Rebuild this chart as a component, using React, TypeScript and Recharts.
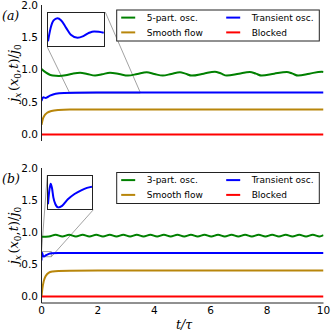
import React from "react";
import { LineChart, Line, XAxis, YAxis, ReferenceLine, ReferenceArea } from "recharts";

// ---- data ----
const xTicks = [0, 2, 4, 6, 8, 10];
const yTicks = [0, 0.5, 1, 1.5, 2];

// panel (a)
const tGreenA = [0, 0.15, 0.4, 0.62, 0.85, 1.1, 1.37, 1.62, 1.9, 2.15, 2.43, 2.75, 3.07, 3.4, 3.73, 4.0, 4.3, 4.6, 4.91, 5.1, 5.33, 5.75, 6.15, 6.35, 6.57, 7.0, 7.39, 7.6, 7.81, 8.25, 8.7, 8.9, 9.1, 9.5, 9.94, 10];
const vGreenA = [1.01, 0.96, 0.91, 0.905, 0.915, 0.94, 0.955, 0.935, 0.91, 0.93, 0.955, 0.935, 0.91, 0.935, 0.96, 0.935, 0.91, 0.935, 0.96, 0.94, 0.91, 0.94, 0.97, 0.945, 0.91, 0.94, 0.965, 0.94, 0.91, 0.94, 0.965, 0.94, 0.91, 0.94, 0.97, 0.965];
const tBlueA = [0, 0.06, 0.15, 0.3, 0.5, 0.8, 1.2, 2, 10];
const vBlueA = [0.52, 0.575, 0.565, 0.6, 0.63, 0.642, 0.646, 0.647, 0.647];
const tGoldA = [0, 0.04, 0.1, 0.2, 0.35, 0.6, 1, 2, 10];
const vGoldA = [0.15, 0.23, 0.29, 0.335, 0.362, 0.378, 0.385, 0.388, 0.388];
const tRed = [0, 10];
const vRed = [0, 0];

// inset (a): zoom on the transient current
const tInsetA = [1.0, 1.12, 1.25, 1.42, 1.59, 1.81, 2.02, 2.32, 2.58, 2.84, 3.06, 3.27, 3.49];
const vInsetA = [0.6417, 0.6466, 0.6493, 0.6501, 0.6493, 0.6466, 0.6441, 0.643, 0.6436, 0.6448, 0.6453, 0.6452, 0.6448];

// panel (b)
const tGreenB = [0, 0.26, 0.5, 0.74, 0.98, 1.22, 1.46, 1.7, 1.94, 2.18, 2.42, 2.66, 2.9, 3.14, 3.38, 3.62, 3.86, 4.1, 4.34, 4.58, 4.82, 5.06, 5.3, 5.54, 5.78, 6.02, 6.26, 6.5, 6.74, 6.98, 7.22, 7.46, 7.7, 7.94, 8.18, 8.42, 8.66, 8.9, 9.14, 9.38, 9.62, 9.86, 10];
const vGreenB = [0.93, 0.934, 0.962, 0.935, 0.961, 0.934, 0.962, 0.935, 0.961, 0.934, 0.962, 0.935, 0.961, 0.934, 0.962, 0.935, 0.961, 0.934, 0.962, 0.935, 0.961, 0.934, 0.962, 0.935, 0.961, 0.934, 0.962, 0.935, 0.961, 0.934, 0.962, 0.935, 0.961, 0.934, 0.962, 0.935, 0.961, 0.934, 0.962, 0.935, 0.961, 0.934, 0.955];
const tBlueB = [0, 0.01, 0.021, 0.04, 0.06, 0.084, 0.16, 0.26, 0.35, 0.6, 1, 2, 10];
const vBlueB = [0.56, 0.66, 0.681, 0.655, 0.631, 0.623, 0.643, 0.665, 0.674, 0.677, 0.678, 0.678, 0.678];
const tGoldB = [0, 0.03, 0.08, 0.15, 0.25, 0.4, 0.6, 1, 2, 10];
const vGoldB = [0, 0.12, 0.24, 0.32, 0.37, 0.39, 0.398, 0.402, 0.404, 0.404];

// inset (b)
const tInsetB = [0, 0.009, 0.021, 0.032, 0.043, 0.059, 0.084, 0.112, 0.158, 0.211, 0.264, 0.31, 0.35];
const vInsetB = [0.631, 0.661, 0.681, 0.67, 0.647, 0.631, 0.623, 0.627, 0.643, 0.656, 0.665, 0.671, 0.674];

const GREEN = "#008000";
const GOLD = "#b8860b";
const BLUE = "#0000ff";
const RED = "#ff0000";
const FRAME = "#222";
const GRAY = "#8a8a8a";
const FONT = "DejaVu Sans";

const W = 332;
const PLOT_L = 41.5;
const PLOT_R = 323.5;

const zip = (ts: number[], vs: number[]) => ts.map((t, i) => ({ t, v: vs[i] }));

type Pt = { t: number; v: number };
type Series = { name: string; color: string; data: Pt[] };
type Inset = {
  box: { t0: number; t1: number; v0: number; v1: number };
  zoom: { t0: number; t1: number; v0: number; v1: number };
  xt: number[];
  yt: number[];
  data: Pt[];
  links: [[number, number], [number, number]][];
};

const panelA: Series[] = [
  { name: "5-part. osc.", color: GREEN, data: zip(tGreenA, vGreenA) },
  { name: "Smooth flow", color: GOLD, data: zip(tGoldA, vGoldA) },
  { name: "Transient osc.", color: BLUE, data: zip(tBlueA, vBlueA) },
  { name: "Blocked", color: RED, data: zip(tRed, vRed) },
];
const panelB: Series[] = [
  { name: "3-part. osc.", color: GREEN, data: zip(tGreenB, vGreenB) },
  { name: "Smooth flow", color: GOLD, data: zip(tGoldB, vGoldB) },
  { name: "Transient osc.", color: BLUE, data: zip(tBlueB, vBlueB) },
  { name: "Blocked", color: RED, data: zip(tRed, vRed) },
];

const insetA: Inset = {
  box: { t0: 0.206, t1: 2.262, v0: 1.35, v1: 1.89 },
  zoom: { t0: 1, t1: 3.5, v0: 0.64, v1: 0.652 },
  xt: [1.5, 2, 2.5, 3],
  yt: [0.6432, 0.6476],
  data: zip(tInsetA, vInsetA),
  links: [
    [[0.206, 1.35], [1, 0.64]],
    [[2.262, 1.89], [3.5, 0.652]],
  ],
};
const insetB: Inset = {
  box: { t0: 0.206, t1: 1.837, v0: 1.35, v1: 1.89 },
  zoom: { t0: 0, t1: 0.35, v0: 0.62, v1: 0.7 },
  xt: [0.05, 0.1, 0.15, 0.2, 0.25, 0.3],
  yt: [0.64, 0.66, 0.68],
  data: zip(tInsetB, vInsetB),
  links: [
    [[0.206, 1.89], [0, 0.7]],
    [[1.837, 1.35], [0.35, 0.62]],
  ],
};

function InsetChart({ cfg, plotTop, plotH }: { cfg: Inset; plotTop: number; plotH: number }) {
  const sx = (t: number) => PLOT_L + (t / 10) * (PLOT_R - PLOT_L);
  const sy = (v: number) => plotTop + ((2 - v) / 2.1) * plotH;
  const left = sx(cfg.box.t0);
  const top = sy(cfg.box.v1);
  const w = sx(cfg.box.t1) - left;
  const h = sy(cfg.box.v0) - top;
  const xd = [cfg.zoom.t0, cfg.zoom.t1];
  const yd = [cfg.zoom.v0, cfg.zoom.v1];
  return (
    <div style={{ position: "absolute", left, top, width: w, height: h, background: "#fff", border: `1px solid ${FRAME}`, boxSizing: "border-box" }}>
      <LineChart width={w - 2} height={h - 2} margin={{ top: 0, right: 0, bottom: 0, left: 0 }}>
        <XAxis xAxisId="b" dataKey="t" type="number" domain={xd} ticks={cfg.xt} allowDataOverflow mirror height={0} tick={false} tickSize={3} axisLine={false} tickLine={{ stroke: FRAME }} />
        <XAxis xAxisId="tp" orientation="top" type="number" domain={xd} ticks={cfg.xt} allowDataOverflow mirror height={0} tick={false} tickSize={3} axisLine={false} tickLine={{ stroke: FRAME }} />
        <YAxis yAxisId="l" type="number" domain={yd} ticks={cfg.yt} allowDataOverflow mirror width={0} tick={false} tickSize={3} axisLine={false} tickLine={{ stroke: FRAME }} />
        <YAxis yAxisId="r" orientation="right" type="number" domain={yd} ticks={cfg.yt} allowDataOverflow mirror width={0} tick={false} tickSize={3} axisLine={false} tickLine={{ stroke: FRAME }} />
        <Line xAxisId="b" yAxisId="l" data={cfg.data} dataKey="v" type="monotone" stroke={BLUE} strokeWidth={2} dot={false} isAnimationActive={false} />
      </LineChart>
    </div>
  );
}

function LegendBox({ items, y }: { items: Series[]; y: number }) {
  const x = 116.7;
  const cols = [x + 4.5, x + 109.5];
  const rows = [y + 7.6, y + 22.4];
  return (
    <g>
      <rect x={x} y={y} width={202.6} height={31} fill="#fff" stroke={FRAME} strokeWidth={1} />
      {items.map((s, i) => {
        const cx = cols[Math.floor(i / 2)];
        const cy = rows[i % 2];
        return (
          <g key={s.name}>
            <line x1={cx} x2={cx + 14} y1={cy} y2={cy} stroke={s.color} strokeWidth={2} />
            <text x={cx + 25.5} y={cy} dy="0.35em" fontFamily={FONT} fontSize={9} fill="#000">
              {s.name}
            </text>
          </g>
        );
      })}
    </g>
  );
}

function YLabel({ x, y }: { x: number; y: number }) {
  return (
    <text transform={`translate(${x},${y}) rotate(-90)`} textAnchor="middle" fontFamily="DejaVu Serif" fontSize={13} fill="#000">
      <tspan fontStyle="italic">j</tspan>
      <tspan fontStyle="italic" fontSize={9} dy={2.5}>x</tspan>
      <tspan dy={-2.5} dx={1.5}>(</tspan>
      <tspan fontStyle="italic">x</tspan>
      <tspan fontSize={9} dy={2.5}>0</tspan>
      <tspan dy={-2.5}>,</tspan>
      <tspan fontStyle="italic">t</tspan>
      <tspan>)/</tspan>
      <tspan fontStyle="italic">j</tspan>
      <tspan fontSize={9} dy={2.5}>0</tspan>
    </text>
  );
}

function Panel({ top, height, axisH, series, inset }: { top: number; height: number; axisH: number; series: Series[]; inset: Inset }) {
  const showX = axisH > 0;
  const yd = [-0.1, 2];
  const tickStyle = { fontSize: 10.5, fill: "#000", fontFamily: FONT };
  return (
    <div style={{ position: "absolute", left: 0, top, width: W, height }}>
      <LineChart width={W} height={height} margin={{ top: 5, right: W - PLOT_R, bottom: 0, left: 0 }}>
        <XAxis xAxisId="x" dataKey="t" type="number" domain={[0, 10]} ticks={xTicks} allowDataOverflow
          mirror={!showX} height={axisH} tick={showX ? tickStyle : false} tickLine={false} tickSize={0} tickMargin={4}
          axisLine={{ stroke: FRAME }} />
        <XAxis xAxisId="xin" type="number" domain={[0, 10]} ticks={xTicks} allowDataOverflow mirror height={0}
          tick={false} tickSize={4} axisLine={false} tickLine={{ stroke: FRAME }} />
        <XAxis xAxisId="xt" orientation="top" type="number" domain={[0, 10]} ticks={xTicks} allowDataOverflow mirror height={0}
          tick={false} tickSize={4} axisLine={{ stroke: FRAME }} tickLine={{ stroke: FRAME }} />
        <YAxis yAxisId="y" type="number" domain={yd} ticks={yTicks} allowDataOverflow width={PLOT_L}
          tick={tickStyle} tickFormatter={(v: number) => v.toFixed(1)} tickLine={false} tickSize={0} tickMargin={3.5}
          axisLine={{ stroke: FRAME }} />
        <YAxis yAxisId="yin" type="number" domain={yd} ticks={yTicks} allowDataOverflow mirror width={0}
          tick={false} tickSize={4} axisLine={false} tickLine={{ stroke: FRAME }} />
        <YAxis yAxisId="yr" orientation="right" type="number" domain={yd} ticks={yTicks} allowDataOverflow mirror width={0}
          tick={false} tickSize={4} axisLine={{ stroke: FRAME }} tickLine={{ stroke: FRAME }} />
        <ReferenceArea xAxisId="x" yAxisId="y" x1={inset.zoom.t0} x2={inset.zoom.t1} y1={inset.zoom.v0} y2={inset.zoom.v1}
          fill="none" stroke={GRAY} strokeWidth={0.8} ifOverflow="visible" />
        {inset.links.map((seg, i) => (
          <ReferenceLine key={i} xAxisId="x" yAxisId="y" ifOverflow="visible" stroke={GRAY} strokeWidth={0.8}
            segment={[{ x: seg[0][0], y: seg[0][1] }, { x: seg[1][0], y: seg[1][1] }]} />
        ))}
        {series.map((s) => (
          <Line key={s.name} xAxisId="x" yAxisId="y" data={s.data} dataKey="v" type="monotone" stroke={s.color}
            strokeWidth={2} dot={false} isAnimationActive={false} />
        ))}
      </LineChart>
      <InsetChart cfg={inset} plotTop={5} plotH={height - 5 - axisH} />
    </div>
  );
}

export default function App() {
  return (
    <div style={{ position: "absolute", left: 0, top: 0, width: W, height: 335, background: "#fff", overflow: "hidden" }}>
      <Panel top={0} height={141} axisH={0} series={panelA} inset={insetA} />
      <Panel top={163} height={172} axisH={32} series={panelB} inset={insetB} />
      <svg width={W} height={335} style={{ position: "absolute", left: 0, top: 0, pointerEvents: "none" }}>
        <LegendBox items={panelA} y={10} />
        <LegendBox items={panelB} y={172.5} />
        <text x={2} y={20} fontFamily="DejaVu Serif" fontStyle="italic" fontSize={12.5} fill="#000">(a)</text>
        <text x={2} y={182.5} fontFamily="DejaVu Serif" fontStyle="italic" fontSize={12.5} fill="#000">(b)</text>
        <YLabel x={18} y={73} />
        <YLabel x={18} y={235.5} />
        <text x={184} y={329} textAnchor="middle" fontFamily="DejaVu Serif" fontStyle="italic" fontSize={12.5} fill="#000">t/τ</text>
      </svg>
    </div>
  );
}
